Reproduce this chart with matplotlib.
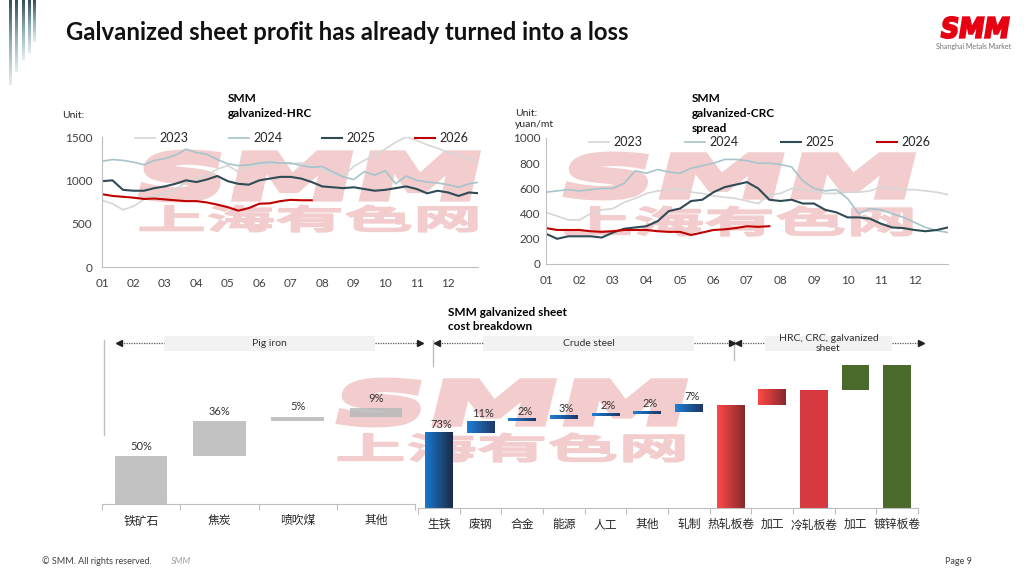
import numpy as np
import matplotlib
matplotlib.use('Agg')
import matplotlib.pyplot as plt
from matplotlib.colors import LinearSegmentedColormap
from matplotlib.textpath import TextPath
from matplotlib.patches import PathPatch, Rectangle
from matplotlib.font_manager import FontProperties
from matplotlib.transforms import Affine2D

plt.rcParams['font.family'] = ['Lato', 'Noto Sans CJK SC', 'DejaVu Sans']

# ---- data ----
months = ['01', '02', '03', '04', '05', '06', '07', '08', '09', '10', '11', '12']
# date grid, 3 points per month
grid = np.linspace(1, 13, 37)

hrc_2023 = [770, 730, 660, 700, 780, 820, 850, 900, 970, 1010, 1060, 1130, 1170, 1100, 1160, 1180,
            1190, 1200, 1190, 1200, 1170, 1130, 1070, 1050, 1160, 1230, 1290, 1360, 1440, 1500,
            1460, 1410, 1370, 1320, 1300, 1250, 1210]
hrc_2024 = [1220, 1240, 1230, 1210, 1180, 1230, 1250, 1290, 1360, 1320, 1300, 1240, 1190, 1170, 1180,
            1200, 1210, 1200, 1200, 1170, 1150, 1160, 1100, 1040, 1010, 1100, 1060, 1110, 960, 1050,
            1000, 980, 970, 950, 920, 960, 980]
hrc_2025 = [990, 1000, 890, 880, 880, 910, 930, 960, 1000, 980, 1010, 1050, 990, 960, 950, 1000,
            1020, 1040, 1040, 1020, 980, 930, 920, 910, 920, 900, 880, 890, 910, 930, 900, 850,
            880, 860, 820, 860, 850]
hrc_2026 = [840, 820, 810, 800, 785, 790, 780, 770, 760, 760, 745, 720, 690, 650, 680, 730,
            735, 760, 775, 770, 770]

crc_2023 = [410, 380, 350, 350, 400, 430, 440, 490, 520, 560, 580, 590, 600, 570, 560, 540,
            530, 520, 500, 480, 550, 560, 600, 590, 580, 560, 560, 570, 570, 580, 610, 600,
            590, 590, 580, 570, 550]
crc_2024 = [570, 580, 590, 580, 590, 600, 600, 640, 740, 720, 750, 730, 720, 760, 780, 800,
            830, 830, 820, 800, 800, 790, 770, 660, 600, 580, 590, 520, 400, 440, 430, 400,
            370, 330, 290, 265, 250]
crc_2025 = [240, 200, 220, 220, 220, 210, 250, 280, 290, 300, 340, 420, 440, 500, 510, 570,
            610, 630, 650, 600, 510, 500, 510, 480, 480, 430, 410, 370, 370, 360, 320, 290,
            285, 270, 260, 270, 290]
crc_2026 = [285, 270, 270, 270, 260, 255, 260, 270, 270, 270, 260, 255, 255, 230, 250, 270,
            275, 285, 300, 295, 300]

years = ['2023', '2024', '2025', '2026']
year_colors = ['#d6d6d6', '#a6c4cb', '#2f4b55', '#c00000']
year_widths = [1.2, 1.2, 1.5, 1.5]

pig_cats = ['铁矿石', '焦炭', '喷吹煤', '其他']
pig_vals = [50, 36, 5, 9]

steel_cats = ['生铁', '废钢', '合金', '能源', '人工', '其他', '轧制', '热轧板卷', '加工', '冷轧板卷', '加工', '镀锌板卷']
steel_vals = [73, 11, 2, 3, 2, 2, 7, 100, 15, 115, 24, 139]
steel_total = [False, False, False, False, False, False, False, True, False, True, False, True]
steel_labeled = 7

fig = plt.figure(figsize=(10.24, 5.76), dpi=100)
fig.patch.set_facecolor('white')

bg = fig.add_axes([0, 0, 1, 1], zorder=-1)
bg.set_xlim(0, 1024)
bg.set_ylim(576, 0)
bg.axis('off')


def px_axes(l, t, r, b):
    a = fig.add_axes([l / 1024, 1 - b / 576, (r - l) / 1024, (b - t) / 576])
    a.set_facecolor('none')
    return a


def stretch_text(s, x0, y0, x1, y1, color, prop, z=0, skew=0, lw=0):
    tp = TextPath((0, 0), s, size=50, prop=prop)
    bb = tp.get_extents()
    tr = (Affine2D().translate(-bb.x0, -bb.y0).skew_deg(skew, 0)
          .scale((x1 - x0) / (bb.width + bb.height * np.tan(np.radians(skew))), -(y1 - y0) / bb.height)
          .translate(x0, y1))
    bg.add_patch(PathPatch(tr.transform_path(tp), fc=color, ec=color, lw=lw, joinstyle='miter', zorder=z))


def grad_bar(ax, xc, bottom, height, width, c1, c2):
    cm = LinearSegmentedColormap.from_list('g', [c1, c2])
    ax.imshow(np.linspace(0, 1, 64).reshape(1, -1), cmap=cm, aspect='auto', interpolation='bilinear',
              extent=(xc - width / 2, xc + width / 2, bottom, bottom + height), zorder=2)


# ---- decorations ----
deco = LinearSegmentedColormap.from_list('d', ['#34505b', '#8fb0b8', '#e4eef0'])
for x0, x1, h in [(9, 12, 85), (15, 18, 72), (22, 25, 60), (28, 31, 53), (33, 36, 42)]:
    bg.imshow(np.linspace(0, 1, 64).reshape(-1, 1), cmap=deco, aspect='auto', extent=(x0, x1, h, 0), zorder=1)
bg.set_xlim(0, 1024)
bg.set_ylim(576, 0)

wm = '#f3cdcd'
smm_font = FontProperties(family='DejaVu Sans', weight='bold')
cjk_font = FontProperties(family='Noto Sans CJK SC', weight='bold')
for (x0, x1, ys0, ys1, yc0, yc1) in [(140, 477, 153, 199, 205, 232),
                                     (565, 912, 155, 197, 206, 236),
                                     (338, 684, 381, 424, 433, 462)]:
    stretch_text('SMM', x0, ys0, x1, ys1, wm, smm_font, skew=6, lw=5)
    stretch_text('上海有色网', x0, yc0, x1, yc1, wm, cjk_font, lw=1.0)

stretch_text('SMM', 941, 17, 1009, 38, '#e60012', smm_font, z=2, skew=10, lw=1.5)
fig.text(974 / 1024, 1 - 47 / 576, 'Shanghai Metals Market', fontsize=5, color='#707070', ha='center', va='center')

fig.text(66 / 1024, 1 - 33 / 576, 'Galvanized sheet profit has already turned into a loss',
         fontsize=17.2, fontweight='bold', color='#111111', va='center', ha='left')

fig.text(42 / 1024, 1 - 561 / 576, '© SMM. All rights reserved.', fontsize=6.5, color='#404040', va='center')
fig.text(171 / 1024, 1 - 561 / 576, 'SMM', fontsize=6.5, color='#a0a0a0', style='italic', va='center')
fig.text(945 / 1024, 1 - 561 / 576, 'Page 9', fontsize=6.5, color='#404040', va='center')

# ---- top charts ----
def line_chart(ax, series, ylim, yticks, xmax):
    for vals, name, c, w in zip(series, years, year_colors, year_widths):
        ax.plot(grid[:len(vals)], vals, color=c, lw=w, label=name)
    ax.set_xlim(1, xmax)
    ax.set_ylim(*ylim)
    ax.set_yticks(yticks)
    ax.set_xticks(range(1, 13))
    ax.set_xticklabels(months)
    for s in ['top', 'right']:
        ax.spines[s].set_visible(False)
    for s in ['left', 'bottom']:
        ax.spines[s].set_color('#bfbfbf')
        ax.spines[s].set_linewidth(0.8)
    ax.tick_params(length=0, labelsize=8.5, colors='#404040')
    ax.tick_params(axis='x', pad=8)
    ax.tick_params(axis='y', pad=7)


ax1 = px_axes(102, 137, 478, 267)
line_chart(ax1, [hrc_2023, hrc_2024, hrc_2025, hrc_2026], (0, 1500), [0, 500, 1000, 1500], 12.95)
ax1.legend(ncol=4, loc='center', bbox_to_anchor=(302 / 1024, 1 - 138 / 576), bbox_transform=fig.transFigure,
           frameon=False, fontsize=9, handlelength=1.6, handletextpad=0.35, columnspacing=3.2, borderpad=0,
           labelcolor='#262626')

ax2 = px_axes(546, 138, 948, 264)
line_chart(ax2, [crc_2023, crc_2024, crc_2025, crc_2026], (0, 1000), [0, 200, 400, 600, 800, 1000], 13)
ax2.tick_params(axis='y', pad=4)
ax2.legend(ncol=4, loc='center', bbox_to_anchor=(760 / 1024, 1 - 142 / 576), bbox_transform=fig.transFigure,
           frameon=False, fontsize=9, handlelength=1.6, handletextpad=0.35, columnspacing=3.4, borderpad=0,
           labelcolor='#262626')

fig.text(228 / 1024, 1 - 93 / 576, 'SMM\ngalvanized-HRC', fontsize=8.5, fontweight='bold', va='top', linespacing=1.45)
fig.text(62 / 1024, 1 - 115 / 576, 'Unit:', fontsize=7.5, color='#262626', va='center')
fig.text(692 / 1024, 1 - 93 / 576, 'SMM\ngalvanized-CRC\nspread', fontsize=8.5, fontweight='bold', va='top', linespacing=1.45)
fig.text(515 / 1024, 1 - 109 / 576, 'Unit:\nyuan/mt', fontsize=7.5, color='#262626', va='top', linespacing=1.3)

# ---- bottom waterfalls ----
def style_wf(ax, cats):
    n = len(cats)
    ax.set_xlim(-0.5, n - 0.5)
    ax.set_xticks(range(n))
    ax.set_xticklabels(cats)
    ax.set_xticks(np.arange(-0.5, n, 1), minor=True)
    for s in ['top', 'right', 'left']:
        ax.spines[s].set_visible(False)
    ax.spines['bottom'].set_color('#bfbfbf')
    ax.set_yticks([])
    ax.tick_params(axis='x', which='major', length=0, labelsize=8.5, colors='#262626', pad=8)
    ax.tick_params(axis='x', which='minor', length=4, color='#bfbfbf', width=0.8)


ax3 = px_axes(102, 340, 415, 504)
bottom = 0
for i, v in enumerate(pig_vals):
    ax3.bar(i, v, bottom=bottom, width=0.67, color='#b8b8b8', alpha=0.85, zorder=2)
    ax3.annotate(f'{v}%', (i, bottom + v), xytext=(0, 3), textcoords='offset points',
                 ha='center', va='bottom', fontsize=8, color='#333333')
    bottom += v
style_wf(ax3, pig_cats)
ax3.set_ylim(0, 164 / 0.96)

ax4 = px_axes(418, 340, 918, 508)
running = 0
for i, (v, tot) in enumerate(zip(steel_vals, steel_total)):
    b = 0 if (tot or i == 0) else running
    if i < steel_labeled:
        c1, c2 = ('#1a78d0', '#1c2b45') if i == 0 else ('#1f7fd6', '#1d3766')
        grad_bar(ax4, i, b, v, 0.67, c1, c2)
        ax4.annotate(f'{v}%', (i, b + v), xytext=(2, 2), textcoords='offset points',
                     ha='center', va='bottom', fontsize=8, color='#333333')
    elif i in (7, 8):
        grad_bar(ax4, i, b, v, 0.67, '#ff4848', '#86292b')
    elif i == 9:
        ax4.bar(i, v, bottom=b, width=0.67, color='#d63a3e', zorder=2)
    else:
        ax4.bar(i, v, bottom=b, width=0.67, color='#4a6a2b', zorder=2)
    running = v if tot else b + v
style_wf(ax4, steel_cats)
ax4.set_xlim(-0.5, len(steel_cats) - 0.5)
ax4.set_ylim(0, 168 / 1.03)

fig.text(448 / 1024, 1 - 307 / 576, 'SMM galvanized sheet\ncost breakdown', fontsize=8.5, fontweight='bold',
         va='top', linespacing=1.3)

# group brackets
for x, y0, y1 in [(104, 340, 435), (433, 340, 366), (734, 340, 360)]:
    bg.plot([x, x], [y0, y1], color='#bfbfbf', lw=1)
groups = [('Pig iron', 119, 164, 375, 420),
          ('Crude steel', 437, 483, 694, 732),
          ('HRC, CRC, galvanized\nsheet', 738, 765, 892, 921)]
for name, a0, b0, b1, a1 in groups:
    bg.plot([a0 + 2, b0], [343, 343], ls=(0, (1, 1)), color='#555555', lw=0.9)
    bg.plot([b1, a1 - 2], [343, 343], ls=(0, (1, 1)), color='#555555', lw=0.9)
    bg.plot([a0], [343], marker='<', ms=4, color='#222222', lw=0)
    bg.plot([a1], [343], marker='>', ms=4, color='#222222', lw=0)
    bg.add_patch(Rectangle((b0, 335.5), b1 - b0, 15.5, fc='#f2f2f2', ec='none'))
    bg.text((b0 + b1) / 2, 343.5, name, ha='center', va='center', fontsize=7.5, color='#333333', linespacing=1.2)

fig.savefig('out.png', dpi=100, facecolor='white')
